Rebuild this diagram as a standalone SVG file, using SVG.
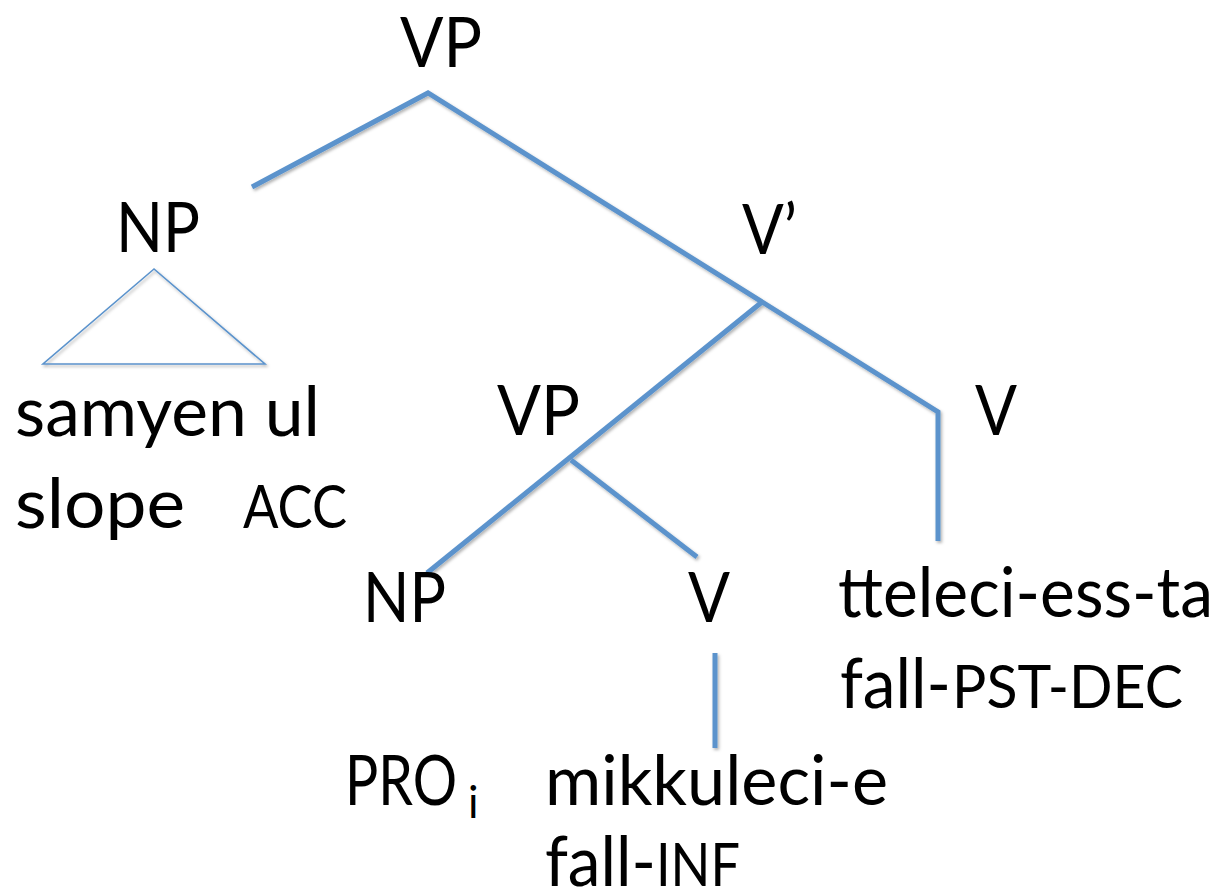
<svg xmlns="http://www.w3.org/2000/svg" width="1227" height="893" viewBox="0 0 1227 893">
  <defs>
    <filter id="soft" x="-10%" y="-10%" width="120%" height="120%">
      <feDropShadow dx="1.5" dy="2" stdDeviation="1.5" flood-color="#000" flood-opacity="0.3"/>
    </filter>
  </defs>
  <style>
    text { font-family: "Lato", "Open Sans", "Liberation Sans", sans-serif; fill: #000; }
    .lbl { font-size: 70px; }
    .sc { font-size: 60px; }
    .sub { font-size: 44px; }
    .edge { stroke: #5b93cc; stroke-width: 5; fill: none; stroke-linecap: butt; stroke-linejoin: miter; }
    .tri { stroke: #5b93cc; stroke-width: 1.6; fill: none; }
  </style>
  <rect width="1227" height="893" fill="#fff"/>

  <!-- tree branches -->
  <g id="connectors" filter="url(#soft)">
    <polyline class="edge" points="252,187 428,93 938,412 938,541"/>
    <line class="edge" x1="762" y1="302" x2="427" y2="573"/>
    <line class="edge" x1="571" y1="460" x2="697" y2="557"/>
    <line class="edge" x1="715" y1="653" x2="715" y2="748"/>
    <polygon class="tri" points="154,269 43,364 265,364"/>
  </g>

  <g id="vp-root"><text class="lbl" x="400" y="67" textLength="82" lengthAdjust="spacingAndGlyphs">VP</text></g>
  <g id="np-object"><text class="lbl" x="116" y="252" textLength="84" lengthAdjust="spacingAndGlyphs">NP</text></g>
  <g id="v-bar"><text class="lbl" x="742" y="254" textLength="55" lengthAdjust="spacingAndGlyphs">V’</text></g>
  <g id="np-object-words">
    <text class="lbl" x="15" y="436" textLength="305" lengthAdjust="spacingAndGlyphs">samyen ul</text>
    <text class="lbl" x="15" y="528" textLength="170" lengthAdjust="spacingAndGlyphs">slope</text>
    <text class="sc" x="243" y="528" textLength="104" lengthAdjust="spacingAndGlyphs">ACC</text>
  </g>
  <g id="vp-inner"><text class="lbl" x="497" y="435" textLength="83" lengthAdjust="spacingAndGlyphs">VP</text></g>
  <g id="v-main"><text class="lbl" x="975" y="435" textLength="42" lengthAdjust="spacingAndGlyphs">V</text></g>
  <g id="np-pro"><text class="lbl" x="363" y="622" textLength="83" lengthAdjust="spacingAndGlyphs">NP</text></g>
  <g id="v-inner"><text class="lbl" x="688" y="622" textLength="42" lengthAdjust="spacingAndGlyphs">V</text></g>
  <g id="v-main-words">
    <text class="lbl" x="838" y="617" textLength="375" lengthAdjust="spacingAndGlyphs">tteleci-ess-ta</text>
    <text class="lbl" x="840" y="708" textLength="111" lengthAdjust="spacingAndGlyphs">fall-</text>
    <text class="sc" x="952" y="708" textLength="231" lengthAdjust="spacingAndGlyphs">PST-DEC</text>
  </g>
  <g id="pro-word">
    <text class="lbl" x="345" y="805" textLength="112" lengthAdjust="spacingAndGlyphs">PRO</text>
    <text class="sub" x="468" y="818">i</text>
  </g>
  <g id="v-inner-words">
    <text class="lbl" x="545" y="805" textLength="343" lengthAdjust="spacingAndGlyphs">mikkuleci-e</text>
    <text class="lbl" x="545" y="886" textLength="111" lengthAdjust="spacingAndGlyphs">fall-</text>
    <text class="sc" x="656" y="886" textLength="84" lengthAdjust="spacingAndGlyphs">INF</text>
  </g>
</svg>
